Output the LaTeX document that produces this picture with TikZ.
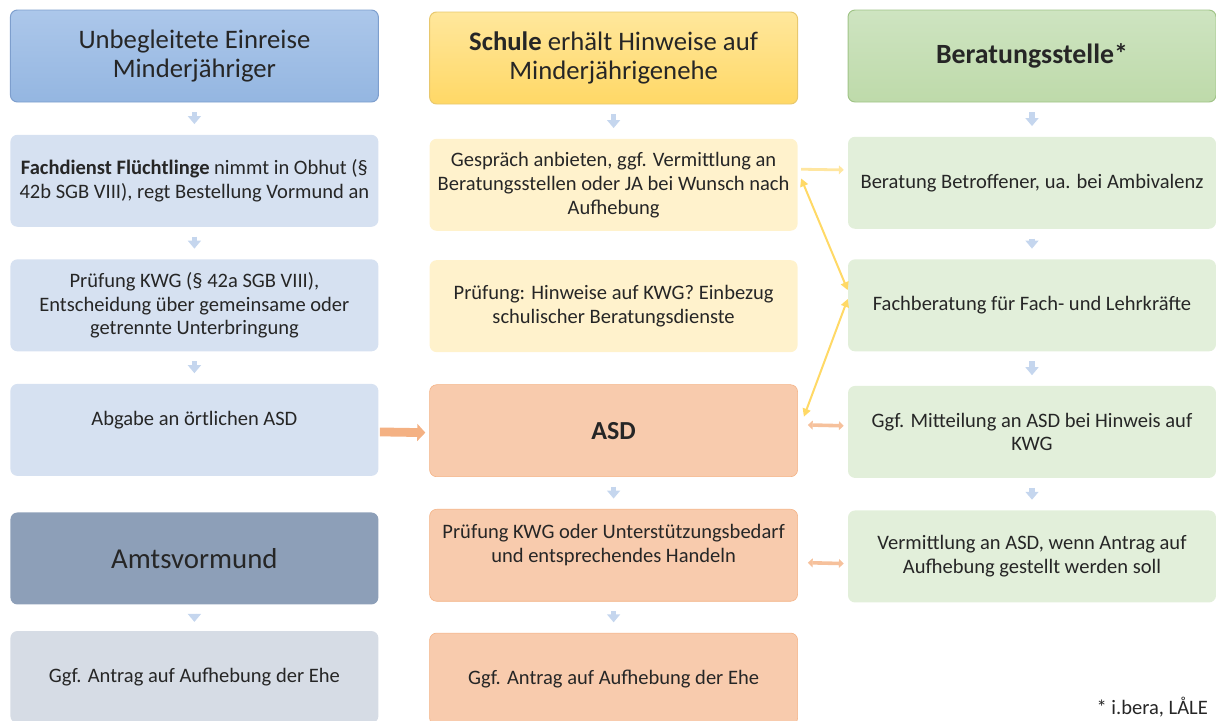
\documentclass[tikz,border=0pt]{standalone}
\usepackage{fontspec}
\setmainfont{Carlito}
\definecolor{ehe_text}{RGB}{38, 38, 38}
\definecolor{ehe_blue_top}{RGB}{172, 199, 234}
\definecolor{ehe_blue_bot}{RGB}{148, 182, 225}
\definecolor{ehe_blue_line}{RGB}{125, 158, 205}
\definecolor{ehe_blue_light}{RGB}{214, 225, 241}
\definecolor{ehe_yellow_top}{RGB}{255, 231, 156}
\definecolor{ehe_yellow_bot}{RGB}{255, 216, 102}
\definecolor{ehe_yellow_line}{RGB}{232, 200, 110}
\definecolor{ehe_yellow_light}{RGB}{255, 242, 204}
\definecolor{ehe_green_top}{RGB}{206, 228, 193}
\definecolor{ehe_green_bot}{RGB}{190, 218, 170}
\definecolor{ehe_green_line}{RGB}{160, 196, 135}
\definecolor{ehe_green_light}{RGB}{226, 239, 218}
\definecolor{ehe_salmon}{RGB}{248, 203, 173}
\definecolor{ehe_salmon_line}{RGB}{244, 177, 131}
\definecolor{ehe_slate}{RGB}{141, 159, 184}
\definecolor{ehe_slate_light}{RGB}{214, 220, 229}
\definecolor{ehe_arrow}{RGB}{197, 214, 238}
\definecolor{ehe_gold}{RGB}{255, 217, 102}
\definecolor{ehe_pale}{RGB}{255, 230, 160}
\usepackage{tikz}
\usetikzlibrary{arrows.meta, positioning}

\begin{document}
\begin{tikzpicture}[node distance=0.8cm,
    box/.style={rounded corners=5pt, align=center, text=ehe_text,
                minimum width=9.2cm, minimum height=2.3cm,
                font=\fontsize{14.6}{17}\selectfont},
    head/.style={box, draw, line width=0.7pt,
                 font=\fontsize{19}{20.5}\selectfont},
    down/.style={-{Triangle[length=0.2cm, width=0.32cm]}, line width=0.14cm,
                 ehe_arrow, shorten <=0.24cm, shorten >=0.26cm},
    both/.style={{Triangle[length=0.12cm, width=0.22cm]}-{Triangle[length=0.12cm, width=0.22cm]},
                 line width=0.09cm, ehe_salmon_line!80,
                 shorten <=0.25cm, shorten >=0.1cm}]
  \useasboundingbox (0,0) rectangle (30.4,-18);

  % linke Spalte
  \node[head, draw=ehe_blue_line, top color=ehe_blue_top, bottom color=ehe_blue_bot]
        (einreise) at (4.86,-1.4) {Unbegleitete Einreise\\Minderjähriger};
  \node[box, fill=ehe_blue_light, below=of einreise]
        (obhut) {\textbf{Fachdienst Flüchtlinge} nimmt in Obhut (§\\42b SGB VIII), regt Bestellung Vormund an};
  \node[box, fill=ehe_blue_light, below=of obhut]
        (kwgeins) {Prüfung KWG (§ 42a SGB VIII),\\Entscheidung über gemeinsame oder\\getrennte Unterbringung};
  \node[box, fill=ehe_blue_light, below=of kwgeins]
        (abgabe) {Abgabe an örtlichen ASD\\\mbox{}};
  \node[box, fill=ehe_slate, font=\fontsize{20.5}{22}\selectfont, below=0.9cm of abgabe]
        (vormund) {Amtsvormund};
  \node[box, fill=ehe_slate_light, below=0.65cm of vormund]
        (antrageins) {Ggf. Antrag auf Aufhebung der Ehe};

  % mittlere Spalte
  \node[head, draw=ehe_yellow_line, top color=ehe_yellow_top, bottom color=ehe_yellow_bot]
        (schule) at (15.34,-1.45) {\textbf{Schule} erhält Hinweise auf\\Minderjährigenehe};
  \node[box, fill=ehe_yellow_light, below=0.85cm of schule]
        (gespraech) {Gespräch anbieten, ggf. Vermittlung an\\Beratungsstellen oder JA bei Wunsch nach\\Aufhebung};
  \node[box, fill=ehe_yellow_light, below=0.72cm of gespraech]
        (hinweise) {Prüfung: Hinweise auf KWG? Einbezug\\schulischer Beratungsdienste};
  \node[box, draw=ehe_salmon_line, fill=ehe_salmon, font=\fontsize{18.5}{20.5}\selectfont\bfseries,
        below=of hinweise]
        (asd) {ASD};
  \node[box, draw=ehe_salmon_line, fill=ehe_salmon, below=of asd]
        (kwgzwei) {Prüfung KWG oder Unterstützungsbedarf\\und entsprechendes Handeln\\\mbox{}};
  \node[box, draw=ehe_salmon_line, fill=ehe_salmon, below=0.78cm of kwgzwei]
        (antragzwei) {Ggf. Antrag auf Aufhebung der Ehe};

  % rechte Spalte
  \node[head, draw=ehe_green_line, top color=ehe_green_top, bottom color=ehe_green_bot,
        font=\fontsize{19.8}{21}\selectfont]
        (stelle) at (25.8,-1.4) {\textbf{Beratungsstelle*}};
  \node[box, fill=ehe_green_light, below=0.85cm of stelle]
        (beratung) {Beratung Betroffener, ua. bei Ambivalenz};
  \node[box, fill=ehe_green_light, below=0.75cm of beratung]
        (fachberatung) {Fachberatung für Fach- und Lehrkräfte};
  \node[box, fill=ehe_green_light, below=0.85cm of fachberatung]
        (mitteilung) {Ggf. Mitteilung an ASD bei Hinweis auf\\KWG};
  \node[box, fill=ehe_green_light, below=of mitteilung]
        (vermittlung) {Vermittlung an ASD, wenn Antrag auf\\Aufhebung gestellt werden soll};

  \node[anchor=south east, text=ehe_text, font=\fontsize{14.6}{16}\selectfont]
        (quelle) at (30.32,-18.04) {* i.bera, LÅLE};

  % Pfeile nach unten
  \draw[down] (einreise) -- (obhut);
  \draw[down] (obhut) -- (kwgeins);
  \draw[down] (kwgeins) -- (abgabe);
  \draw[down, shorten <=0.22cm, shorten >=0.22cm] (vormund) -- (antrageins);
  \draw[down] (schule) -- (gespraech);
  \draw[down] (asd) -- (kwgzwei);
  \draw[down] (kwgzwei) -- (antragzwei);
  \draw[down] (stelle) -- (beratung);
  \draw[down] (beratung) -- (fachberatung);
  \draw[down] (fachberatung) -- (mitteilung);
  \draw[down] (mitteilung) -- (vermittlung);

  % Querverbindungen
  \draw[-{Triangle[length=0.2cm, width=0.42cm]}, line width=0.22cm, ehe_salmon_line,
        shorten <=0.03cm, shorten >=0.1cm]
        ([yshift=-0.05cm]abgabe.east) -- ([yshift=-0.05cm]asd.west);
  \draw[-{Triangle[length=0.12cm, width=0.22cm]}, line width=0.07cm, ehe_pale,
        shorten <=0.08cm, shorten >=0.1cm]
        ([yshift=0.39cm]gespraech.east) -- ([yshift=0.32cm]beratung.west);
  \draw[{Triangle[length=0.2cm, width=0.2cm]}-{Triangle[length=0.2cm, width=0.2cm]},
        line width=0.05cm, ehe_gold]
        ([xshift=0.08cm, yshift=0.16cm]gespraech.east) -- ([yshift=0.38cm]fachberatung.west);
  \draw[{Triangle[length=0.2cm, width=0.2cm]}-{Triangle[length=0.2cm, width=0.2cm]},
        line width=0.05cm, ehe_gold]
        ([yshift=0.16cm]fachberatung.west) -- ([xshift=0.15cm, yshift=0.35cm]asd.east);
  \draw[both] ([yshift=0.15cm]asd.east) -- ([yshift=0.15cm]mitteilung.west);
  \draw[both] ([yshift=-0.18cm]kwgzwei.east) -- ([yshift=-0.18cm]vermittlung.west);
\end{tikzpicture}
\end{document}
